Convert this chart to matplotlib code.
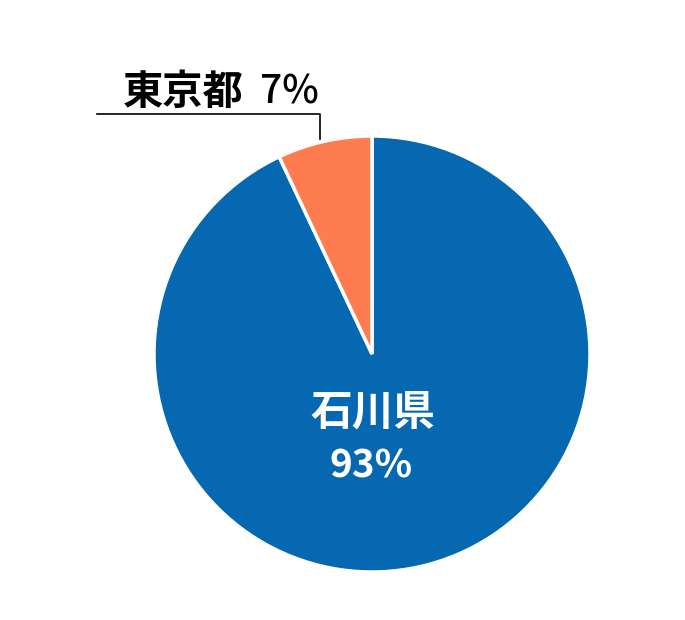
import numpy as np
import matplotlib.pyplot as plt

labels = ['石川県', '東京都']
shares = [93, 7]
colors = ['#0568B0', '#FF7C50']

plt.rcParams['font.family'] = ['Noto Sans CJK JP', 'DejaVu Sans']

W, H = 685, 620
fig = plt.figure(figsize=(W / 100, H / 100), dpi=100)
ax = fig.add_axes([0, 0, 1, 1])

cx, cy, r = 372, H - 354, 218
wedges, _ = ax.pie(shares, colors=colors, startangle=90, counterclock=False,
                   radius=r, center=(cx, cy),
                   wedgeprops=dict(edgecolor='white', linewidth=2.5))

ax.set_xlim(0, W)
ax.set_ylim(0, H)
ax.set_aspect('equal')
ax.axis('off')

# big slice label
ax.text(cx + 1, H - 414, labels[0], color='white', fontsize=30, fontweight='bold',
        ha='center', va='center')
ax.text(cx - 1, H - 466, f'{shares[0]}%', color='white', fontsize=28, fontweight='bold',
        ha='center', va='center')

# small slice label with leader line
w = wedges[1]
mid = np.deg2rad((w.theta1 + w.theta2) / 2)
px = cx + r * np.cos(mid) - 4
py = cy + r * np.sin(mid) + 2
ly = H - 114
ax.plot([px, px, 97], [py, ly, ly], color='black', linewidth=1.2)
ax.text(319, H - 92, f'{shares[1]}%', color='black', fontsize=28, fontweight='medium',
        ha='right', va='center')
ax.text(244, H - 92, labels[1], color='black', fontsize=29, fontweight='bold',
        ha='right', va='center')

fig.savefig('out.png', dpi=100, facecolor='white')
